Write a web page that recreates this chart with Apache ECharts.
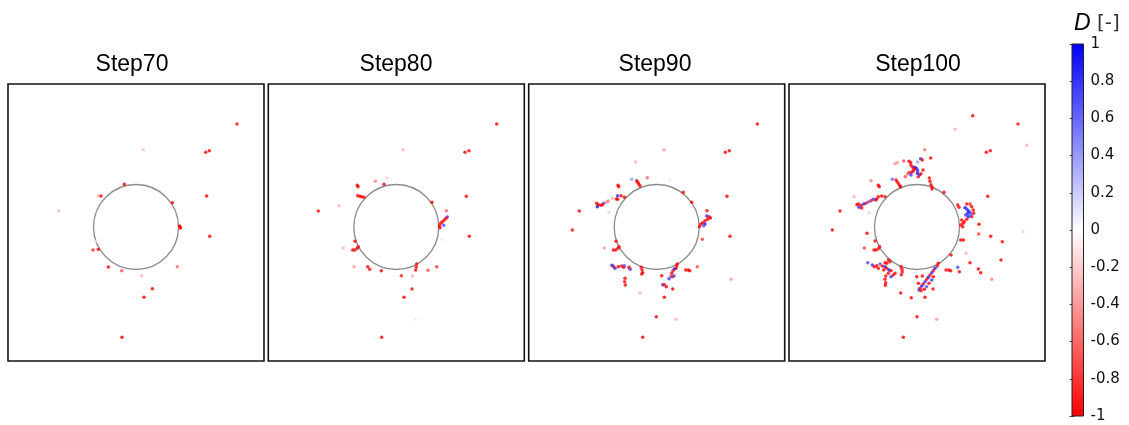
<!DOCTYPE html>
<html>
<head>
<meta charset="utf-8">
<script src="https://cdn.jsdelivr.net/npm/echarts@6/dist/echarts.min.js"></script>
<style>html,body{margin:0;padding:0;background:#fff;}#c{width:1129px;height:425px;}</style>
</head>
<body>
<div id="c"></div>
<script>
// Panel titles
var stepTitles = ['Step70', 'Step80', 'Step90', 'Step100'];
// Colorbar ticks
var cbarMin = -1, cbarMax = 1, cbarInterval = 0.2;
// Hole (circle) in panel coordinates: [cx, cy, r]
var hole = [128, 143, 42.5];
// Panel coordinate ranges
var panelW = 256, panelH = 277;

// Points: [x, y, D]
var step70Pts = [
 [229,40,-1],[135.3,65.7,-0.25],[197.7,68.3,-1],[201.3,66.7,-1],[116.3,100.3,-1],
 [90.3,111.7,-0.3],[93,112,-1],[198.7,112,-1],[164.3,118.7,-1],[50.7,127,-0.3],
 [171.5,142,-1],[172.5,144,-1],[172,143,-1],[201.7,152.3,-1],[88,157.3,-0.15],
 [85,166,-0.9],[90.3,165.3,-1],[100.3,183,-1],[113.7,186.7,-0.7],[169.3,182.7,-0.6],
 [133.7,191.7,-0.3],[144.3,204.7,-1],[136,213.3,-1],[114,253.3,-1]
];
var step80Pts = [
 [228.4,40,-1],[134.7,65.7,-0.3],[196.7,68.3,-1],[200.7,66.7,-1],[118.4,94,-0.2],
 [107,97.3,-0.5],[115.7,100.3,-1],[89,101.3,-1],[89.7,102.7,-1],[89.4,111.7,-1],
 [91.5,112.2,-1],[93.4,112.7,-1],[95.7,113.3,-1],[198,112.3,-1],[70.7,121.7,-0.3],
 [163.7,118.3,-1],[178,126.7,-0.6],[50,127,-1],
 [179,133,0.8],[177.7,134.3,-1],[176,136,-1],[174,137.7,-1],[172.4,139.3,-1],[171,141.7,-1],[171.7,143.7,-1],[175.4,141.3,0.7],
 [201,152.3,-1],[173.4,155.3,-0.1],[86.7,157.3,-1],[75,164,-0.3],
 [84.4,166,-1],[86.7,166,-1],[89,164.3,-1],[90,162.7,-1],[85.7,182.7,-0.4],
 [99.4,182.7,-1],[101.4,185.3,-1],[113,186.7,-1],[148.4,180,-1],[148,183,-1],[147.4,186,-1],
 [159.7,186.3,-0.7],[168.4,182.7,-0.8],[133,191.7,-0.9],[144,191.7,-0.3],[143.7,205,-1],
 [135.7,213.3,-1],[147,235.3,-0.1],[113.4,253.3,-1]
];
var step90Pts = [
 [228.6,40,-1],[135.3,65.7,-0.4],[196.6,68.3,-1],[200.6,66.7,-1],[107,78,-0.3],
 [118.6,93.7,-0.6],[141,96,-0.1],[103,95.3,0.4],
 [108,96.7,-1],[109,98.3,-1],[110,100,-1],[111.3,101.7,-1],
 [89.3,101.3,-1],[90,102.7,-1],[154.6,108.3,-1],[88.9,111.7,0.8],[92.3,111.7,-1],[95.7,113.3,-1],
 [87.7,115,-1],[89,115.3,-1],[198.3,112.3,-1],[83.7,114.3,-0.3],[163,118.3,-1],
 [79.6,117,-0.5],[78,118,-0.5],[75,119.3,0.7],[68,119.3,-1],[69.7,120.7,-1],[72,121.3,-1],[73.7,120.7,-1],
 [68.6,122.7,0.9],[50.6,127,-1],[80.3,128.3,-0.2],[178.3,126.7,-1],
 [178,132,0.8],[180.3,132.7,-1],[181.7,134,-1],[179,135.3,-1],[176.3,136.7,-1],[174,138.7,-1],
 [172,140.3,-1],[170.7,142.7,-1],[176.3,140,0.9],[175,141.7,0.7],
 [43.6,146,-1],[201.3,152.3,-1],[173.6,155.3,-0.8],[87.3,157.3,-1],[75.6,164,-0.4],
 [84.6,166,-1],[87,166,-1],[89.3,164.3,-1],[90.3,162.7,-1],
 [83.3,181.3,0.9],[85,182.7,-1],[86.3,184.3,0.8],[89.6,182.7,-1],[93,182,-1],[95,183.3,-1],
 [95.6,181.7,0.7],[100.3,183.3,-1],[101.3,185,-1],[101.6,185.3,0.6],
 [112.6,183.3,-1],[113.3,186,-1],[114,188.7,-1],[113,190,-1],
 [96.3,194.3,-1],[96,197.7,-1],[96.6,201,-1],
 [148.6,180,-1],[148,182,-1],[147.3,184.3,-1],[145.6,185,0.9],[144.3,186.7,-1],[143,189.3,-1],
 [141.6,192,0.4],[140.3,194.7,0.8],[145.3,192,0.8],[143.3,192.7,-1],
 [133,191.7,-1],[157,186,-1],[159.6,186,-1],[161,186.7,-1],[168.6,182.7,-0.7],
 [134,200.7,0.8],[135.6,200.7,-1],[137.6,202.7,-1],[144,205,-1],[135.6,213.3,-1],
 [202.3,195.3,-0.4],[111.3,209,-0.3],[127.6,232.7,-1],[147.3,235.3,-0.3],[114,253.3,-1]
];
var step100Pts = [
 [183.7,31.7,-1],[229,40,-1],[166,45.3,-0.3],[237.7,61.3,-0.3],[135.7,65.7,-0.6],
 [197.3,68.3,-1],[201.3,66.7,-1],[141.7,74,-1],[131.7,74.7,0.8],[133.3,76,-1],
 [106,79.7,-0.4],[108.3,78.7,-0.4],[114.7,77,-0.7],[120,77.3,-1],[121.7,78.7,-1],[128.7,78,0.4],
 [122,81.3,-1],[123.7,83.3,-1],[126,83.3,0.9],[127.7,84.7,0.9],[125.3,85.3,-1],[128.7,86.7,0.8],
 [124.3,86.7,-1],[122.7,88.3,-1],[120,88.7,-1],[118.7,90,-0.6],[122,91,0.8],[128.3,89.3,0.9],
 [130.7,90.7,0.8],[132,89.7,-1],[134,86,-1],[129.3,92.7,-1],[116.3,92.7,-0.7],
 [103.3,95.3,0.6],[82,96.7,-0.5],
 [107,96,-1],[108.3,98,-1],[109.7,100,-1],[111,102,-1],[111.7,103,-1],
 [140.3,94,-1],[141,97.3,-1],[142,100.7,-1],[143,103,-1],[143,105,-1],
 [89.3,101.3,-1],[90.3,102.7,-1],[155,108.3,-1],[168.7,121,-1],[170,123.3,-1],
 [198.7,112.3,-1],[65,112.7,-0.3],
 [96,112.7,-1],[92.7,112,-1],[89.3,112.7,-1],[87.7,115,-1],[86.7,116,-1],[84.3,115.3,0.8],
 [82,116.7,-1],[79.3,118,0.7],[76.7,119.3,-1],[74.7,120,0.8],[72,121.3,-1],[69.3,120,-1],
 [68,120.7,-1],[70,123.3,0.8],[72.7,124,-1],[80.3,128.7,-0.2],[51,127,-1],
 [177.7,120,-1],[181,120,-0.9],[182.7,122.7,-1],[184.3,126,-1],[184.7,129.3,-1],[182.7,132.7,-1],
 [176,123.7,0.9],[177.7,125,0.8],[179.3,126.7,0.9],[181,128.3,0.8],[178.7,129.3,0.9],
 [176.7,131,0.8],[179.3,132.7,0.9],[182,130.7,0.7],
 [172.7,136,-1],[175.3,137.7,-1],[174,139.3,-1],[171.7,141,-1],[173.7,142.7,-1],[177.7,135.3,-1],
 [190,140.3,-1],[43.3,146,-1],[78,149.3,-1],[201.7,152.3,-1],[189.7,150,-0.8],[234,147.7,-0.2],
 [171.7,156,-1],[174.3,156,-1],[213.3,157.7,-1],[75.3,164,-0.8],
 [85,166,-1],[87,166,-1],[89.3,164.7,-1],[90.7,162.7,-1],[86,157,-1],
 [162,171,-1],[177,169.3,-0.3],[212,176,-1],
 [99.3,176,-1],[101,177.7,-1],[97.7,179.3,-1],[96,178.7,-1],[78.7,178.7,0.7],
 [83.3,181,0.8],[85.3,182.7,-1],[87.7,181.7,-1],[91,180,0.7],[93.3,182,-1],[96,182.7,0.9],
 [97.7,184.3,-1],[100,186,0.9],[102,186.7,-1],[99.3,189.3,-1],[96.7,192,-1],[96,195.3,-1],
 [96.7,198.7,-1],[96.3,201.3,-1],[102,192.7,0.8],[104.3,191,-1],[106,189.3,-1],[94.7,186,-1],[89.3,184.3,-1],
 [112,182.7,-1],[113,185.3,-1],[113.3,188,-1],[112.3,190.7,-1],
 [149.3,179.3,-1],[148.3,182,-1],[146,184.3,0.9],[144.3,186.7,-1],[142.7,188.7,0.8],[141,191,-1],
 [139.3,193.3,0.9],[137.7,195.3,-1],[136,197.7,0.8],[134.3,200,-1],[132.7,202,0.9],[131,204.3,-1],
 [130,206,0.8],[132,206.7,-1],[144.3,192.7,-1],[142.7,196,0.8],[140,199.3,-1],[137.7,202.7,0.7],
 [135.3,205.3,-1],[127.7,192.7,-1],[129.3,199.3,-1],[133.3,192,-1],
 [157,186,-1],[159.7,186,-1],[161.7,186.7,-1],[168.7,183.3,0.7],[170.3,187.7,-1],[181,178.7,-1],
 [189.3,185,-1],[191.7,188.7,-1],[202.7,195.3,-0.5],[144,205,-1],[136,213.3,-1],[111.7,209,-1],
 [122.3,213.7,-1],[128,232.7,-1],[147.7,235.3,-0.4],[114.3,253.3,-1]
];
var allSteps = [step70Pts, step80Pts, step90Pts, step100Pts];

// Layout
var panelLefts = [8, 268.3, 528.7, 789];
var panelTop = 84;
var titleX = [132, 396, 655, 918];

var grids = [], xAxes = [], yAxes = [], series = [], graphics = [];
for (var i = 0; i < 4; i++) {
  grids.push({left: panelLefts[i], top: panelTop, width: 256, height: 277, show: true,
    borderColor: '#111', borderWidth: 1.6, backgroundColor: '#fff'});
  xAxes.push({gridIndex: i, type: 'value', min: 0, max: panelW, show: false});
  yAxes.push({gridIndex: i, type: 'value', min: 0, max: panelH, inverse: true, show: false});
  series.push({
    type: 'custom', xAxisIndex: i, yAxisIndex: i, data: [hole], silent: true, z: 2,
    renderItem: function (params, api) {
      var c = api.coord([api.value(0), api.value(1)]);
      var s = api.size([api.value(2), api.value(2)]);
      return {type: 'circle', shape: {cx: c[0], cy: c[1], r: s[0]},
        style: {fill: null, stroke: '#8c8c8c', lineWidth: 1.3}};
    }
  });
  series.push({
    type: 'scatter', xAxisIndex: i, yAxisIndex: i, data: allSteps[i],
    symbol: 'circle', symbolSize: 3.5, z: 3, silent: true
  });
  graphics.push({type: 'text', x: titleX[i], y: 65,
    style: {text: stepTitles[i], font: '23px "Liberation Sans", Arial, sans-serif',
      fill: '#000', textAlign: 'center', textVerticalAlign: 'middle'}});
}
// colorbar grid
grids.push({left: 1072, top: 44, width: 11.5, height: 372, show: false});
xAxes.push({gridIndex: 4, type: 'value', min: 0, max: 1, show: false});
yAxes.push({gridIndex: 4, type: 'value', min: cbarMin, max: cbarMax, interval: cbarInterval,
  position: 'right', axisLine: {show: false}, splitLine: {show: false},
  axisTick: {show: true, inside: true, length: 2.5, lineStyle: {color: '#444', width: 1}},
  axisLabel: {margin: 7, fontSize: 15, color: '#111', fontFamily: '"DejaVu Sans", sans-serif',
    formatter: function (v) { return String(Math.round(v * 10) / 10); }}});
yAxes.push({gridIndex: 4, type: 'value', min: cbarMin, max: cbarMax, interval: cbarInterval,
  position: 'left', axisLine: {show: false}, splitLine: {show: false}, axisLabel: {show: false},
  axisTick: {show: true, inside: true, length: 2.5, lineStyle: {color: '#444', width: 1}}});
series.push({
  type: 'custom', xAxisIndex: 4, yAxisIndex: 5, data: [[0, cbarMin, 1, cbarMax]], silent: true, z: 1,
  renderItem: function (params, api) {
    var p0 = api.coord([api.value(0), api.value(3)]);
    var p1 = api.coord([api.value(2), api.value(1)]);
    return {type: 'rect', shape: {x: p0[0], y: p0[1], width: p1[0] - p0[0], height: p1[1] - p0[1]},
      style: {fill: new echarts.graphic.LinearGradient(0, 0, 0, 1, [
        {offset: 0, color: '#0000ff'}, {offset: 0.5, color: '#ffffff'}, {offset: 1, color: '#ff0000'}]),
        stroke: '#222', lineWidth: 1}};
  }
});

var chart = echarts.init(document.getElementById('c'), null, {renderer: 'canvas'});
chart.setOption({
  animation: false,
  backgroundColor: '#fff',
  title: {text: '{i|D}{n| [-]}', left: 1069, top: 7,
    textStyle: {fontWeight: 'normal', rich: {
      i: {fontStyle: 'italic', fontWeight: 'normal', fontSize: 23, fontFamily: '"Liberation Sans", Arial, sans-serif', color: '#000'},
      n: {fontWeight: 'normal', fontSize: 20, fontFamily: '"DejaVu Sans", sans-serif', color: '#333'}}}},
  grid: grids, xAxis: xAxes, yAxis: yAxes,
  visualMap: {show: false, type: 'continuous', min: cbarMin, max: cbarMax, dimension: 2,
    seriesIndex: [1, 3, 5, 7], inRange: {color: ['#ff0000', '#ffffff', '#0000ff']}},
  graphic: graphics,
  series: series
});
</script>
</body>
</html>
